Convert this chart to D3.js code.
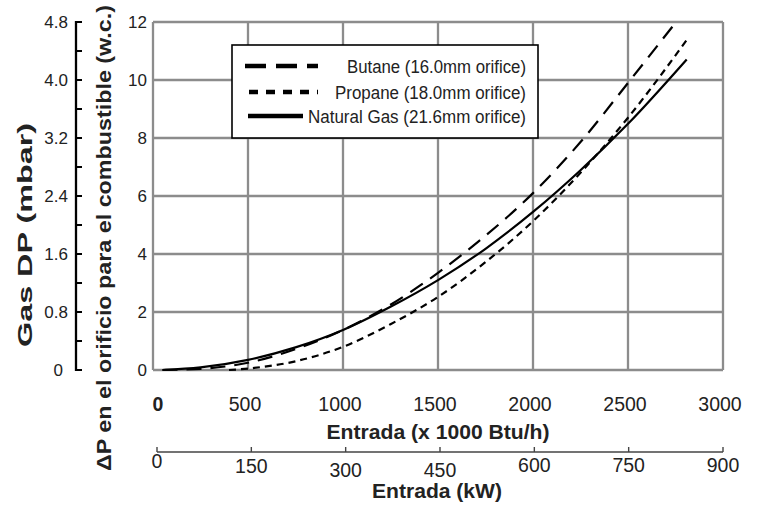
<!DOCTYPE html>
<html lang="en">
<head>
    <meta charset="UTF-8">
    <title>Gas orifice pressure drop</title>
    <script src="https://d3js.org/d3.v7.min.js"></script>
    <style>
        body { margin: 0; background: #fff; }
        svg { font-family: "Liberation Sans", Arial, sans-serif; }
        .grid line { stroke: #8c8c8c; stroke-width: 2.3; }
        .curve { fill: none; stroke: #000; stroke-width: 2.2; }
        .tick-label { fill: #222; }
        .title { fill: #222; font-weight: bold; }
    </style>
</head>
<body>
    <script>
        // values: x = input (x 1000 Btu/h), y = orifice DP (w.c.)
        const butane = [[50, 0], [250, 0.04], [500, 0.25], [750, 0.72], [1000, 1.38], [1250, 2.25],
                        [1500, 3.35], [1750, 4.63], [2000, 6.1], [2250, 7.86], [2500, 9.9], [2753, 12]];
        const propane = [[400, 0], [500, 0.05], [750, 0.3], [1000, 0.8], [1250, 1.58], [1500, 2.52],
                         [1750, 3.72], [2000, 5.13], [2250, 6.8], [2500, 8.7], [2809, 11.38]];
        const naturalGas = [[50, 0], [250, 0.09], [500, 0.35], [750, 0.78], [1000, 1.38], [1250, 2.18],
                            [1500, 3.1], [1750, 4.18], [2000, 5.45], [2250, 6.89], [2500, 8.49], [2809, 10.71]];

        const seriesNames = ['Butane (16.0mm orifice)', 'Propane (18.0mm orifice)', 'Natural Gas (21.6mm orifice)'];

        const xTicks = [0, 500, 1000, 1500, 2000, 2500, 3000];
        const yTicks = [0, 2, 4, 6, 8, 10, 12];
        const mbarTicks = [0, 0.8, 1.6, 2.4, 3.2, 4.0, 4.8];
        const mbarTickLabels = ['0', '0.8', '1.6', '2.4', '3.2', '4.0', '4.8'];
        const mbarMinorTicks = [0.4, 1.2, 2.0, 2.8, 3.6, 4.4];
        const kwTicks = [0, 150, 300, 450, 600, 750, 900];

        const W = 765, H = 508;
        const svg = d3.select('body').append('svg')
            .attr('width', W)
            .attr('height', H);

        const x = d3.scaleLinear().domain([0, 3000]).range([153, 723]);
        const y = d3.scaleLinear().domain([0, 12]).range([370, 22]);
        const yMbar = d3.scaleLinear().domain([0, 4.8]).range([370, 22]);
        const xKw = d3.scaleLinear().domain([0, 900]).range([157, 723]);

        // grid and frame
        const grid = svg.append('g').attr('class', 'grid');
        grid.selectAll('.vx')
            .data(xTicks)
            .enter().append('line')
            .attr('x1', d => x(d)).attr('x2', d => x(d))
            .attr('y1', y(0)).attr('y2', y(12));
        grid.selectAll('.hy')
            .data(yTicks)
            .enter().append('line')
            .attr('x1', x(0)).attr('x2', x(3000))
            .attr('y1', d => y(d)).attr('y2', d => y(d));

        // main y tick labels
        svg.selectAll('.ylab')
            .data(yTicks)
            .enter().append('text')
            .attr('class', 'tick-label')
            .attr('x', 147)
            .attr('y', d => y(d) + 6)
            .attr('text-anchor', 'end')
            .style('font-size', '17px')
            .text(d => d);

        // main x tick labels
        svg.selectAll('.xlab')
            .data(xTicks)
            .enter().append('text')
            .attr('class', 'tick-label')
            .attr('x', (d, i) => x(d) + (i === 0 ? 5 : -3))
            .attr('y', 411)
            .attr('text-anchor', 'middle')
            .style('font-size', '19.5px')
            .style('font-weight', (d, i) => i === 0 ? 'bold' : 'normal')
            .text(d => d);

        // curves
        const line = d3.line()
            .x(d => x(d[0]))
            .y(d => y(d[1]))
            .curve(d3.curveMonotoneX);

        svg.append('path').datum(butane)
            .attr('class', 'curve')
            .attr('stroke-dasharray', '15,9')
            .attr('d', line);
        svg.append('path').datum(propane)
            .attr('class', 'curve')
            .attr('stroke-dasharray', '7,5')
            .attr('d', line);
        svg.append('path').datum(naturalGas)
            .attr('class', 'curve')
            .attr('d', line);

        // legend
        const legend = svg.append('g');
        legend.append('rect')
            .attr('x', 232).attr('y', 45)
            .attr('width', 306).attr('height', 93)
            .attr('fill', '#fff')
            .attr('stroke', '#000')
            .attr('stroke-width', 1.6);

        const legendStyle = [
            {y: 66, x1: 245, x2: 318, dash: '21,10', textLen: 179},
            {y: 92, x1: 249, x2: 318, dash: '9,8', textLen: 191},
            {y: 116, x1: 248, x2: 303, dash: null, textLen: 218}
        ];
        seriesNames.forEach((name, i) => {
            const s = legendStyle[i];
            legend.append('line')
                .attr('x1', s.x1).attr('x2', s.x2)
                .attr('y1', s.y).attr('y2', s.y)
                .attr('stroke', '#000')
                .attr('stroke-width', 4.5)
                .attr('stroke-dasharray', s.dash);
            legend.append('text')
                .attr('class', 'tick-label')
                .attr('x', 526)
                .attr('y', s.y + 7)
                .attr('text-anchor', 'end')
                .attr('textLength', s.textLen)
                .attr('lengthAdjust', 'spacingAndGlyphs')
                .style('font-size', '17.5px')
                .text(name);
        });

        // left mbar axis
        const mbar = svg.append('g');
        mbar.append('line')
            .attr('x1', 76).attr('x2', 76)
            .attr('y1', yMbar(0) + 1).attr('y2', yMbar(4.8) - 1)
            .attr('stroke', '#000').attr('stroke-width', 2.3);
        mbar.selectAll('.mt')
            .data(mbarTicks.concat(mbarMinorTicks))
            .enter().append('line')
            .attr('x1', 76).attr('x2', 82)
            .attr('y1', d => yMbar(d)).attr('y2', d => yMbar(d))
            .attr('stroke', '#000').attr('stroke-width', 2);
        mbar.selectAll('.ml')
            .data(mbarTicks)
            .enter().append('text')
            .attr('class', 'tick-label')
            .attr('x', (d, i) => i === 0 ? 63 : 68)
            .attr('y', d => yMbar(d) + 6)
            .attr('text-anchor', 'end')
            .style('font-size', '17px')
            .text((d, i) => mbarTickLabels[i]);

        // kW axis
        const kw = svg.append('g');
        kw.append('line')
            .attr('x1', xKw(0)).attr('x2', xKw(900))
            .attr('y1', 452).attr('y2', 452)
            .attr('stroke', '#444').attr('stroke-width', 1.6);
        kw.selectAll('.kt')
            .data(kwTicks)
            .enter().append('line')
            .attr('x1', d => xKw(d)).attr('x2', d => xKw(d))
            .attr('y1', 452).attr('y2', 447)
            .attr('stroke', '#444').attr('stroke-width', 1.4);
        const kwBaseline = [468, 473, 477, 477, 472, 472, 472];
        kw.selectAll('.kl')
            .data(kwTicks)
            .enter().append('text')
            .attr('class', 'tick-label')
            .attr('x', d => xKw(d))
            .attr('y', (d, i) => kwBaseline[i])
            .attr('text-anchor', 'middle')
            .style('font-size', '19.5px')
            .text(d => d);

        // axis titles
        svg.append('text')
            .attr('class', 'title')
            .attr('x', 438).attr('y', 439)
            .attr('text-anchor', 'middle')
            .attr('textLength', 223)
            .attr('lengthAdjust', 'spacingAndGlyphs')
            .style('font-size', '20px')
            .text('Entrada (x 1000 Btu/h)');

        svg.append('text')
            .attr('class', 'title')
            .attr('x', 437).attr('y', 498)
            .attr('text-anchor', 'middle')
            .attr('textLength', 130)
            .attr('lengthAdjust', 'spacingAndGlyphs')
            .style('font-size', '20px')
            .text('Entrada (kW)');

        svg.append('text')
            .attr('class', 'title')
            .attr('transform', 'translate(111,238) rotate(-90)')
            .attr('text-anchor', 'middle')
            .attr('textLength', 466)
            .attr('lengthAdjust', 'spacingAndGlyphs')
            .style('font-size', '20.5px')
            .text('ΔP en el orificio para el combustible (w.c.)');

        svg.append('text')
            .attr('class', 'title')
            .attr('transform', 'translate(32,235) rotate(-90)')
            .attr('text-anchor', 'middle')
            .attr('textLength', 224)
            .attr('lengthAdjust', 'spacingAndGlyphs')
            .style('font-size', '20.5px')
            .text('Gas DP (mbar)');
    </script>
</body>
</html>
